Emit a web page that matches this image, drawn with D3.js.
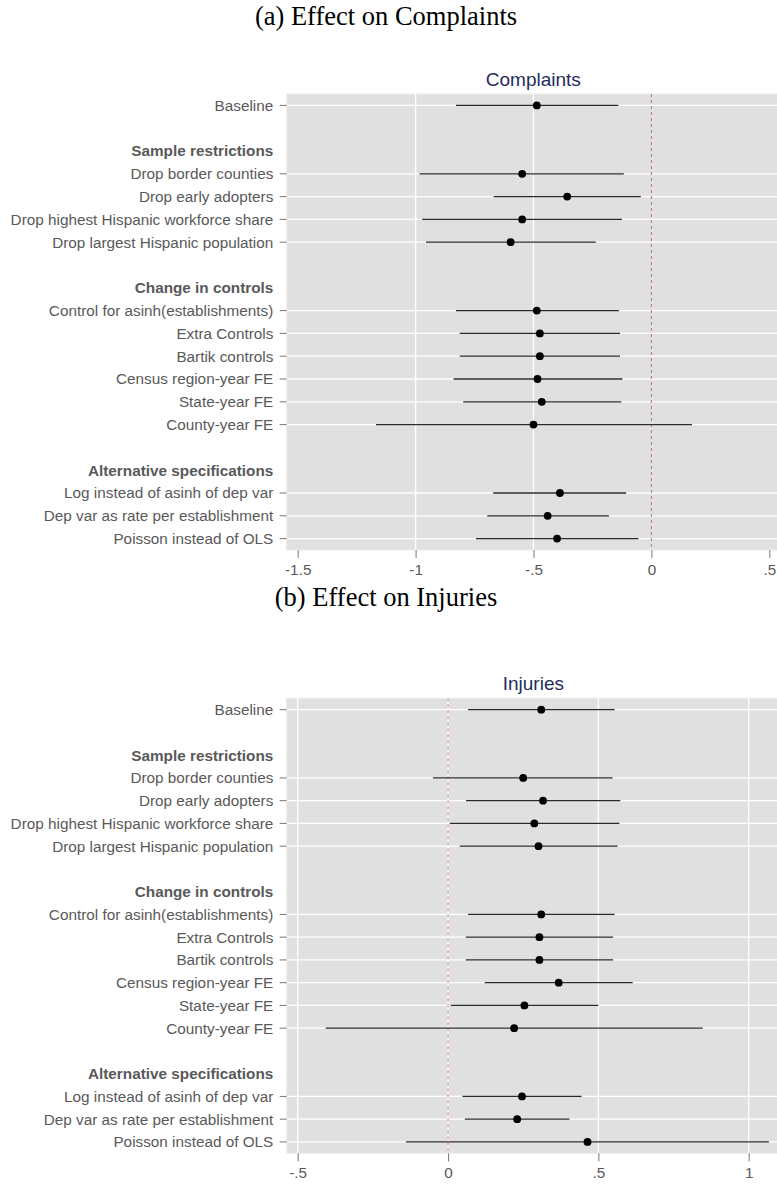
<!DOCTYPE html>
<html>
<head>
    <meta charset="utf-8">
    <style>
        body { margin: 0; background: #fff; }
    </style>
</head>
<body>
    <svg width="777" height="1184"></svg>
    <script src="https://d3js.org/d3.v7.min.js"></script>
    <script>
        // row labels ("" = spacer row)
        var rowLabels = ["Baseline", "", "Sample restrictions",
            "Drop border counties", "Drop early adopters", "Drop highest Hispanic workforce share", "Drop largest Hispanic population",
            "", "Change in controls",
            "Control for asinh(establishments)", "Extra Controls", "Bartik controls", "Census region-year FE", "State-year FE", "County-year FE",
            "", "Alternative specifications",
            "Log instead of asinh of dep var", "Dep var as rate per establishment", "Poisson instead of OLS"];
        var headerLabels = ["Sample restrictions", "Change in controls", "Alternative specifications"];

        // estimates in row order of the specification rows (headers / spacers skipped)
        var complaintsCoef = [-0.486, -0.548, -0.357, -0.548, -0.597, -0.486, -0.473, -0.473, -0.483, -0.465, -0.500, -0.388, -0.440, -0.400];
        var complaintsLo = [-0.829, -0.983, -0.669, -0.972, -0.956, -0.829, -0.813, -0.813, -0.839, -0.798, -1.168, -0.671, -0.696, -0.744];
        var complaintsHi = [-0.140, -0.117, -0.045, -0.125, -0.236, -0.138, -0.133, -0.133, -0.123, -0.128, 0.172, -0.107, -0.180, -0.055];

        var injuriesCoef = [0.310, 0.250, 0.316, 0.287, 0.301, 0.310, 0.304, 0.304, 0.368, 0.254, 0.220, 0.246, 0.230, 0.464];
        var injuriesLo = [0.067, -0.050, 0.060, 0.006, 0.039, 0.067, 0.059, 0.059, 0.122, 0.009, -0.407, 0.048, 0.056, -0.140];
        var injuriesHi = [0.554, 0.547, 0.573, 0.570, 0.564, 0.554, 0.549, 0.549, 0.614, 0.500, 0.847, 0.444, 0.404, 1.067];

        var complaintsTicks = [-1.5, -1, -0.5, 0, 0.5];
        var complaintsTickLabels = ["-1.5", "-1", "-.5", "0", ".5"];
        var complaintsGrid = [-1, -0.5];
        var injuriesTicks = [-0.5, 0, 0.5, 1];
        var injuriesTickLabels = ["-.5", "0", ".5", "1"];
        var injuriesGrid = [-0.5, 0, 0.5, 1];

        var svg = d3.select("svg");
        var labelColor = "#595959";
        var sans = "'Liberation Sans', Arial, Helvetica, sans-serif";

        function drawPanel(p) {
            var left = 286.7, right = 780;
            var g = svg.append("g");

            // figure caption
            g.append("text")
                .attr("x", 386).attr("y", p.captionY)
                .attr("text-anchor", "middle")
                .style("font-family", "'Liberation Serif', 'Times New Roman', serif")
                .style("font-size", "26.5px")
                .style("fill", "#000")
                .text(p.caption);

            var xScale = d3.scaleLinear().domain(p.domain).range(p.range);
            var yScale = d3.scalePoint()
                .domain(d3.range(rowLabels.length))
                .range([p.top, p.bottom])
                .padding(0.5);

            // plot region
            g.append("rect")
                .attr("x", left).attr("y", p.top)
                .attr("width", right - left).attr("height", p.bottom - p.top)
                .style("fill", "#e0e0e0")
                .style("stroke", "#ececec")
                .style("stroke-width", 1.2);

            g.append("text")
                .attr("x", (left + right) / 2).attr("y", p.top - 8)
                .attr("text-anchor", "middle")
                .style("font-family", sans)
                .style("font-size", "19px")
                .style("fill", "#1f2d5c")
                .text(p.title);

            // spec rows only
            var specRows = [];
            rowLabels.forEach(function (lab, i) {
                if (lab !== "" && headerLabels.indexOf(lab) < 0) specRows.push(i);
            });
            var est = specRows.map(function (r, k) {
                return { row: r, b: p.coef[k], lo: p.lo[k], hi: p.hi[k] };
            });

            // horizontal grid
            g.append("g").selectAll("line")
                .data(specRows).enter().append("line")
                .attr("x1", left).attr("x2", right)
                .attr("y1", function (d) { return yScale(d); })
                .attr("y2", function (d) { return yScale(d); })
                .style("stroke", "#fff").style("stroke-width", 1.3);

            // vertical grid
            g.append("g").selectAll("line")
                .data(p.grid).enter().append("line")
                .attr("x1", function (d) { return xScale(d); })
                .attr("x2", function (d) { return xScale(d); })
                .attr("y1", p.top).attr("y2", p.bottom)
                .style("stroke", "#fff").style("stroke-width", 1.3);

            // zero line
            g.append("line")
                .attr("x1", xScale(0)).attr("x2", xScale(0))
                .attr("y1", p.top).attr("y2", p.bottom)
                .style("stroke", p.zeroColor)
                .style("stroke-width", 1.1)
                .style("stroke-dasharray", "3,3");

            // y axis: tick marks on spec rows, labels on all rows
            g.append("g").selectAll("line")
                .data(specRows).enter().append("line")
                .attr("x1", left - 7).attr("x2", left)
                .attr("y1", function (d) { return yScale(d); })
                .attr("y2", function (d) { return yScale(d); })
                .style("stroke", "#777").style("stroke-width", 1);

            g.append("g").selectAll("text")
                .data(rowLabels.map(function (l, i) { return { lab: l, i: i }; }).filter(function (d) { return d.lab !== ""; }))
                .enter().append("text")
                .attr("x", left - 13.4)
                .attr("y", function (d) { return yScale(d.i); })
                .attr("dy", "0.35em")
                .attr("text-anchor", "end")
                .style("font-family", sans)
                .style("font-size", "15.3px")
                .style("font-weight", function (d) { return headerLabels.indexOf(d.lab) >= 0 ? "bold" : "normal"; })
                .style("fill", labelColor)
                .text(function (d) { return d.lab; });

            // x axis
            var xAxis = d3.axisBottom(xScale)
                .tickValues(p.ticks)
                .tickSize(8)
                .tickPadding(6)
                .tickFormat(function (d, i) { return p.tickLabels[i]; });
            var ax = g.append("g")
                .attr("transform", "translate(0," + p.bottom + ")")
                .call(xAxis);
            ax.select(".domain").remove();
            ax.selectAll(".tick line").style("stroke", "#777");
            ax.selectAll(".tick text")
                .style("font-family", sans)
                .style("font-size", "15.3px")
                .style("fill", labelColor);

            // confidence intervals
            g.append("g").selectAll("line")
                .data(est).enter().append("line")
                .attr("x1", function (d) { return xScale(d.lo); })
                .attr("x2", function (d) { return xScale(d.hi); })
                .attr("y1", function (d) { return yScale(d.row); })
                .attr("y2", function (d) { return yScale(d.row); })
                .style("stroke", "#2a2a2a").style("stroke-width", 1.3);

            // point estimates
            g.append("g").selectAll("circle")
                .data(est).enter().append("circle")
                .attr("cx", function (d) { return xScale(d.b); })
                .attr("cy", function (d) { return yScale(d.row); })
                .attr("r", 3.9)
                .style("fill", "#000");
        }

        drawPanel({
            caption: "(a) Effect on Complaints", captionY: 25,
            title: "Complaints",
            top: 94, bottom: 550,
            domain: [-1.5, 0.5], range: [297.7, 769.3],
            ticks: complaintsTicks, tickLabels: complaintsTickLabels, grid: complaintsGrid,
            coef: complaintsCoef, lo: complaintsLo, hi: complaintsHi,
            zeroColor: "#c2779b"
        });

        drawPanel({
            caption: "(b) Effect on Injuries", captionY: 606,
            title: "Injuries",
            top: 698.3, bottom: 1153.3,
            domain: [-0.5, 1], range: [297.7, 748.7],
            ticks: injuriesTicks, tickLabels: injuriesTickLabels, grid: injuriesGrid,
            coef: injuriesCoef, lo: injuriesLo, hi: injuriesHi,
            zeroColor: "#e97ab5"
        });
    </script>
</body>
</html>
